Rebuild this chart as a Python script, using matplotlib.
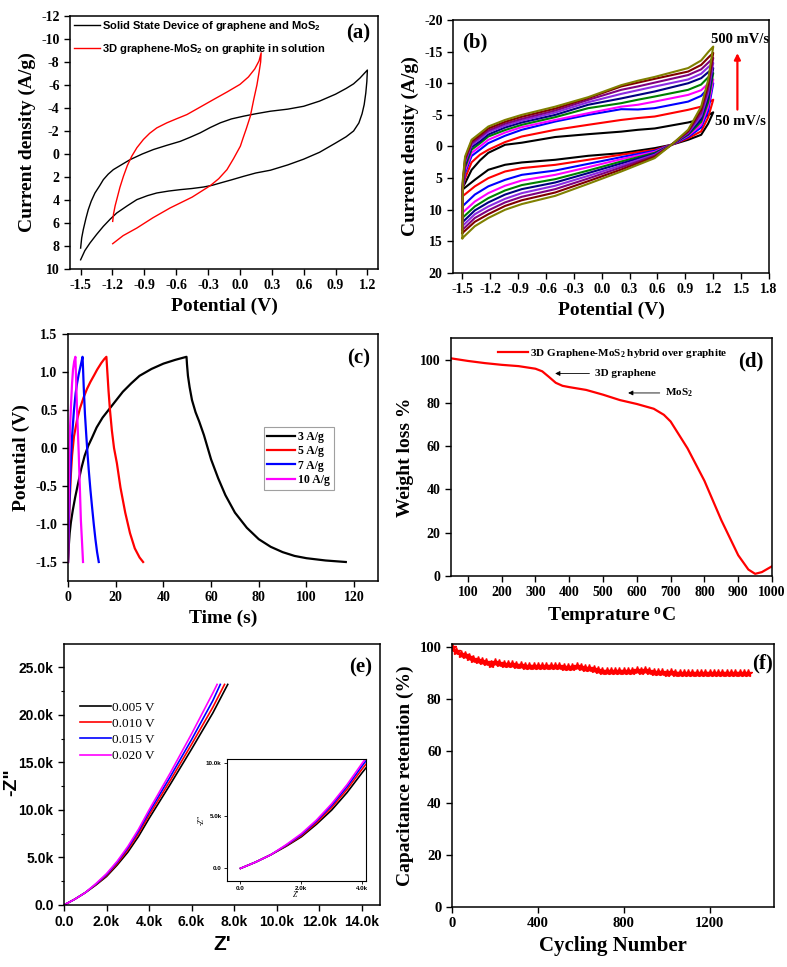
import numpy as np
import matplotlib
matplotlib.use("Agg")
import matplotlib.pyplot as plt
from matplotlib.ticker import FuncFormatter, MultipleLocator

plt.rcParams['axes.unicode_minus'] = False
plt.rcParams['font.family'] = ['Liberation Serif', 'DejaVu Serif']
plt.rcParams['mathtext.fontset'] = 'custom'
plt.rcParams['mathtext.rm'] = 'Liberation Serif'
plt.rcParams['mathtext.bf'] = 'Liberation Serif:bold'
plt.rcParams['mathtext.sf'] = 'Liberation Sans:bold'
plt.rcParams['mathtext.it'] = 'Liberation Serif:italic'

# ---------------- (a) CV: solid state device vs solution ----------------
a_dev_up_x = [-1.5, -1.49, -1.475, -1.45, -1.428, -1.4, -1.365, -1.32, -1.286, -1.24, -1.192,
              -1.1, -1.034, -0.92, -0.814, -0.69, -0.562, -0.47, -0.374, -0.28, -0.185, -0.08,
              0.035, 0.15, 0.287, 0.45, 0.6, 0.75, 0.9, 1.0, 1.07, 1.13, 1.17, 1.2]
a_dev_up_y = [8.18, 7.3, 6.58, 5.6, 4.84, 4.1, 3.39, 2.75, 2.23, 1.75, 1.36,
              0.85, 0.49, 0.0, -0.39, -0.75, -1.1, -1.45, -1.84, -2.3, -2.71, -3.05,
              -3.29, -3.5, -3.72, -3.9, -4.15, -4.6, -5.2, -5.7, -6.1, -6.6, -7.0, -7.3]
a_dev_lo_x = [1.195, 1.185, 1.17, 1.15, 1.12, 1.07, 1.0, 0.9, 0.75, 0.6, 0.45, 0.287, 0.15,
              0.035, -0.08, -0.185, -0.26, -0.342, -0.45, -0.562, -0.67, -0.783, -0.87,
              -0.971, -1.06, -1.16, -1.22, -1.286, -1.35, -1.412, -1.46, -1.5]
a_dev_lo_y = [-6.3, -5.3, -4.3, -3.5, -2.7, -2.0, -1.5, -0.95, -0.15, 0.45, 0.95, 1.41, 1.65,
              1.94, 2.25, 2.52, 2.72, 2.87, 3.0, 3.1, 3.22, 3.39, 3.62,
              3.97, 4.5, 5.13, 5.65, 6.29, 7.0, 7.74, 8.4, 9.2]
a_sol_up_x = [-1.198, -1.19, -1.175, -1.16, -1.13, -1.097, -1.06, -1.019, -0.97, -0.909, -0.85,
              -0.783, -0.688, -0.6, -0.499, -0.38, -0.248, -0.12, 0.0, 0.08, 0.14, 0.18, 0.2]
a_sol_up_y = [5.86, 5.2, 4.5, 3.97, 2.9, 1.94, 1.0, 0.2, -0.55, -1.26, -1.8,
              -2.27, -2.71, -3.05, -3.43, -4.05, -4.74, -5.4, -6.05, -6.7, -7.4, -8.1, -8.8]
a_sol_lo_x = [0.195, 0.18, 0.16, 0.13, 0.098, 0.06, 0.03, 0.004, -0.06, -0.122, -0.2, -0.279,
              -0.45, -0.657, -0.82, -0.971, -1.1, -1.198]
a_sol_lo_y = [-8.0, -7.1, -6.0, -4.74, -3.29, -2.2, -1.4, -0.68, 0.4, 1.36, 2.15, 2.75,
              3.75, 4.69, 5.55, 6.44, 7.1, 7.8]

# ---------------- (b) CV at 50 ... 500 mV/s ----------------
b_colors = ['black', 'red', 'blue', 'magenta', 'green', 'navy', '#8a2be2', 'purple', 'maroon', 'olive']
b_up_x = [-1.5, -1.495, -1.47, -1.40, -1.31, -1.22, -1.04, -0.86, -0.5, -0.145, 0.21, 0.39,
          0.57, 0.93, 1.07, 1.15, 1.2]
b_up_y = [
    [6.84, 6.4, 5.8, 3.7, 2.2, 1.0, -0.27, -0.6, -1.5, -1.95, -2.35, -2.64, -2.85, -3.8, -4.3, -5.0, -5.4],
    [7.9, 6.5, 5.0, 2.5, 1.3, 0.52, -0.7, -1.58, -2.64, -3.43, -4.2, -4.5, -4.74, -5.8, -6.3, -7.0, -7.4],
    [9.48, 6.5, 4.2, 1.5, 0.5, -0.53, -1.7, -2.64, -3.95, -5.0, -5.9, -5.85, -6.06, -7.1, -8.0, -9.3, -10.0],
    [10.5, 6.4, 3.8, 1.0, 0.0, -1.06, -2.2, -3.06, -4.2, -5.27, -6.3, -6.6, -7.1, -8.16, -8.9, -10.0, -10.6],
    [11.3, 6.3, 3.3, 0.5, -0.5, -1.58, -2.6, -3.43, -4.64, -6.06, -6.85, -7.4, -7.9, -8.96, -9.8, -11.0, -11.6],
    [12.0, 6.2, 2.9, 0.1, -0.8, -1.9, -3.0, -3.8, -5.0, -6.6, -7.6, -8.15, -8.7, -10.0, -10.8, -11.8, -12.4],
    [12.6, 6.0, 2.5, -0.2, -1.2, -2.27, -3.3, -4.1, -5.37, -7.0, -8.32, -8.9, -9.48, -10.6, -11.5, -12.6, -13.2],
    [13.2, 5.9, 2.2, -0.5, -1.5, -2.53, -3.6, -4.37, -5.69, -7.37, -8.96, -9.5, -10.1, -11.3, -12.2, -13.3, -14.0],
    [13.7, 5.7, 1.9, -0.8, -1.8, -2.85, -3.9, -4.7, -6.0, -7.65, -9.5, -10.1, -10.7, -11.85, -12.9, -14.1, -14.8],
    [14.5, 5.3, 1.58, -1.06, -2.1, -3.16, -4.2, -5.0, -6.3, -7.8, -9.7, -10.4, -11.0, -12.4, -13.6, -15.0, -15.8],
]
b_lo_x = [1.2, 1.145, 1.07, 0.93, 0.75, 0.57, 0.21, -0.145, -0.5, -0.86, -1.04, -1.22, -1.365, -1.5]
b_lo_y = [
    [-5.4, -3.6, -1.85, -1.06, -0.27, 0.26, 1.05, 1.47, 2.1, 2.52, 2.89, 3.68, 5.26, 6.84],
    [-7.4, -4.6, -2.4, -1.3, -0.27, 0.52, 1.3, 2.1, 2.9, 3.42, 3.95, 5.0, 6.3, 7.9],
    [-10.0, -5.6, -3.0, -1.5, -0.27, 0.68, 1.68, 2.74, 3.8, 4.48, 5.27, 6.3, 7.6, 9.48],
    [-10.6, -6.3, -3.4, -1.7, -0.27, 0.84, 2.0, 3.27, 4.48, 5.37, 6.2, 7.37, 8.7, 10.5],
    [-11.6, -7.0, -3.9, -1.85, -0.27, 1.0, 2.37, 3.8, 5.16, 6.1, 6.95, 8.16, 9.48, 11.3],
    [-12.4, -7.7, -4.3, -2.0, -0.27, 1.15, 2.68, 4.2, 5.69, 6.74, 7.6, 8.84, 10.1, 12.0],
    [-13.2, -8.4, -4.8, -2.15, -0.27, 1.31, 3.0, 4.64, 6.2, 7.37, 8.27, 9.48, 10.7, 12.6],
    [-14.0, -9.1, -5.3, -2.3, -0.27, 1.47, 3.3, 5.06, 6.74, 7.95, 8.84, 10.1, 11.3, 13.2],
    [-14.8, -9.8, -5.8, -2.45, -0.27, 1.63, 3.64, 5.48, 7.27, 8.5, 9.4, 10.7, 11.9, 13.7],
    [-15.8, -10.5, -6.3, -2.64, -0.27, 1.84, 3.95, 5.9, 7.8, 9.1, 10.0, 11.3, 12.6, 14.5],
]

# ---------------- (c) charge/discharge ----------------
c_labels = ['3 A/g', '5 A/g', '7 A/g', '10 A/g']
c_colors = ['black', 'red', 'blue', 'magenta']
c_t = [
    [0, 0.3, 0.7, 1.2, 2, 3, 4, 5.5, 7, 8.5, 10, 12, 14.5, 17, 20, 23, 26.5, 30, 35, 40, 45,
     49.7, 49.9, 50.3, 51, 52, 53.5, 55, 57, 60, 63, 66, 70, 75, 80, 85, 90, 95, 100, 108, 116.5],
    [0, 0.3, 0.7, 1.2, 1.7, 2.5, 3.8, 5, 6.6, 8, 9.4, 11, 12.2, 14, 15.2, 16.1, 16.3, 16.6, 17,
     17.6, 18.4, 19.3, 20.5, 22, 24, 26, 28, 30, 31.5],
    [0, 0.2, 0.5, 0.9, 1.3, 1.7, 2.5, 3.2, 3.8, 4.5, 5.2, 5.7, 6.1, 6.3, 6.6, 7.1, 7.7, 8.2, 8.7,
     9.4, 10.1, 10.8, 11.5, 12.2, 12.9],
    [0, 0.15, 0.35, 0.6, 0.9, 1.3, 1.7, 2.1, 2.6, 3.1, 3.3, 3.5, 3.9, 4.5, 5.0, 5.4, 5.9, 6.3],
]
c_v = [
    [-1.5, -1.3, -1.12, -0.98, -0.82, -0.65, -0.5, -0.28, -0.1, 0.03, 0.13, 0.27, 0.4, 0.5, 0.62,
     0.74, 0.85, 0.95, 1.04, 1.11, 1.16, 1.2, 1.1, 0.95, 0.8, 0.63, 0.47, 0.35, 0.17, -0.15, -0.4,
     -0.62, -0.85, -1.05, -1.2, -1.3, -1.37, -1.42, -1.45, -1.48, -1.5],
    [-1.5, -1.1, -0.7, -0.35, -0.1, 0.15, 0.37, 0.52, 0.67, 0.78, 0.87, 0.96, 1.03, 1.12, 1.17,
     1.2, 1.1, 0.95, 0.75, 0.5, 0.23, 0.0, -0.2, -0.52, -0.85, -1.12, -1.32, -1.44, -1.5],
    [-1.5, -1.2, -0.8, -0.4, -0.1, 0.15, 0.5, 0.72, 0.85, 0.97, 1.07, 1.14, 1.2, 1.05, 0.8, 0.45,
     0.15, -0.08, -0.29, -0.55, -0.78, -1.0, -1.2, -1.37, -1.5],
    [-1.5, -1.1, -0.6, -0.07, 0.3, 0.59, 0.85, 1.03, 1.14, 1.2, 1.0, 0.8, 0.4, -0.07, -0.55,
     -0.95, -1.25, -1.5],
]

# ---------------- (d) TGA ----------------
d_temp = [50, 100, 150, 200, 250, 300, 320, 340, 360, 380, 400, 450, 500, 550, 600, 650, 680,
          700, 750, 800, 850, 900, 930, 950, 970, 1000]
d_weight = [100.6, 99.4, 98.4, 97.6, 97.0, 95.8, 94.6, 92.0, 89.3, 87.9, 87.3, 86.0, 83.8,
            81.3, 79.5, 77.3, 74.5, 71.4, 59.0, 44.0, 25.8, 9.6, 3.0, 1.0, 1.8, 4.5]

# ---------------- (e) Nyquist ----------------
e_labels = ['0.005 V', '0.010 V', '0.015 V', '0.020 V']
e_colors = ['black', 'red', 'blue', 'magenta']
e_zre = [
    [0, 500, 1000, 1500, 2000, 2500, 3000, 3500, 4000, 5000, 6000, 7000, 7700],
    [0, 500, 1000, 1500, 2000, 2500, 3000, 3500, 4000, 5000, 6000, 7000, 7550],
    [0, 500, 1000, 1500, 2000, 2500, 3000, 3500, 4000, 5000, 6000, 7000, 7350],
    [0, 500, 1000, 1500, 2000, 2500, 3000, 3500, 4000, 5000, 6000, 7000, 7200],
]
e_zim = [
    [0, 600, 1300, 2100, 3000, 4200, 5550, 7200, 9100, 12700, 16400, 20200, 23200],
    [0, 600, 1300, 2150, 3100, 4350, 5800, 7500, 9450, 13100, 16900, 20800, 23200],
    [0, 600, 1300, 2200, 3200, 4500, 6000, 7750, 9750, 13500, 17400, 21500, 23200],
    [0, 600, 1300, 2250, 3300, 4600, 6150, 7950, 10000, 13900, 18000, 22300, 23200],
]

# ---------------- (f) cycling ----------------
f_cycle = list(range(0, 1381, 20))
f_retention = [100.0, 98.3, 97.3, 96.6, 96.0, 95.4, 95.0, 94.5, 93.9, 93.3,
               93.9, 93.6, 93.4, 93.3, 93.2, 93.0, 92.9, 92.7, 92.6, 92.6,
               92.5, 92.5, 92.4, 92.5, 92.4, 92.4, 92.3, 92.3, 92.2, 92.4,
               92.1, 91.9, 91.6, 91.4, 91.0, 90.7, 90.7, 90.8, 90.7, 90.8,
               90.7, 90.8, 90.7, 90.9, 90.8, 90.9, 90.5, 90.3, 90.3, 90.2,
               90.0, 90.1, 90.0, 90.0, 89.9, 89.9, 89.8, 90.0, 89.9, 89.9,
               89.8, 89.8, 89.8, 89.7, 89.8, 89.7, 89.7, 89.7, 89.7, 89.8]

W, H = 787, 967
fig = plt.figure(figsize=(W / 100, H / 100), dpi=100)


def box(l, t, r, b):
    return [l / W, 1 - b / H, (r - l) / W, (b - t) / H]


def style(ax, size=10, font='Liberation Serif'):
    for s in ax.spines.values():
        s.set_linewidth(1.1)
    ax.tick_params(direction='out', length=4, width=1, labelsize=size, top=False, right=False)
    for lab in ax.get_xticklabels() + ax.get_yticklabels():
        lab.set_fontweight('bold')
        lab.set_family(font)


lab_kw = dict(fontsize=14, fontweight='bold')
tag_kw = dict(fontsize=15, fontweight='bold')

# (a)
ax = fig.add_axes(box(70, 16, 378, 269))
ax.plot(a_dev_up_x + a_dev_lo_x, a_dev_up_y + a_dev_lo_y, color='black', lw=1,
        label=r'Solid State Device of graphene and MoS$_\mathsf{2}$')
ax.plot(a_sol_up_x + a_sol_lo_x, a_sol_up_y + a_sol_lo_y, color='red', lw=1,
        label=r'3D graphene-MoS$_\mathsf{2}$ on graphite in solution')
ax.set_xlim(-1.6, 1.3)
ax.set_ylim(10, -12)
ax.set_xticks(np.arange(-1.5, 1.21, 0.3))
ax.set_yticks(np.arange(-12, 11, 2))
ax.xaxis.set_major_formatter(FuncFormatter(lambda v, p: f'{v:.1f}'))
ax.set_xlabel('Potential (V)', **lab_kw)
ax.set_ylabel('Current density (A/g)', **lab_kw)
style(ax)
ax.legend(loc='upper left', bbox_to_anchor=(-0.01, 1.015), frameon=False, handlelength=2.4,
          handletextpad=0.15, labelspacing=0.8, borderaxespad=0.2,
          prop=dict(family='Liberation Sans', weight='bold', size=8))
ax.text(0.975, 0.93, '(a)', transform=ax.transAxes, ha='right', va='center', **tag_kw)

# (b)
ax = fig.add_axes(box(453, 20, 769, 273))
for col, uy, ly in zip(b_colors, b_up_y, b_lo_y):
    ax.plot(b_up_x + b_lo_x, uy + ly, color=col, lw=1.5)
ax.set_xlim(-1.6, 1.8)
ax.set_ylim(20, -20)
ax.set_xticks(np.arange(-1.5, 1.81, 0.3))
ax.set_yticks(np.arange(-20, 21, 5))
ax.xaxis.set_major_formatter(FuncFormatter(lambda v, p: f'{v:.1f}'))
ax.set_xlabel('Potential (V)', **lab_kw)
ax.set_ylabel('Current density (A/g)', **lab_kw)
style(ax)
ax.text(0.03, 0.91, '(b)', transform=ax.transAxes, ha='left', va='center', **tag_kw)
ax.annotate('', xy=(1.46, -15.2), xytext=(1.46, -5.4),
            arrowprops=dict(arrowstyle='-|>', color='red', lw=1.6, mutation_scale=9))
ax.text(1.49, -16.9, '500 mV/s', ha='center', va='center', fontsize=10.5, fontweight='bold')
ax.text(1.22, -3.9, '50 mV/s', ha='left', va='center', fontsize=10.5, fontweight='bold')

# (c)
ax = fig.add_axes(box(68, 334, 378, 581))
for t, v, col, lab in zip(c_t, c_v, c_colors, c_labels):
    ax.plot(t, v, color=col, lw=1.6, label=lab)
ax.set_xlim(0, 130)
ax.set_ylim(-1.75, 1.5)
ax.set_xticks(np.arange(0, 121, 20))
ax.set_yticks(np.arange(-1.5, 1.51, 0.5))
ax.yaxis.set_major_formatter(FuncFormatter(lambda v, p: f'{v:.1f}'))
ax.set_xlabel('Time (s)', **lab_kw)
ax.set_ylabel('Potential (V)', **lab_kw)
style(ax)
leg = ax.legend(loc='upper left', bbox_to_anchor=(0.632, 0.622), frameon=True, fancybox=False,
                edgecolor='#888888', handlelength=2.3, handletextpad=0.3, labelspacing=0.2,
                borderpad=0.3, borderaxespad=0, prop=dict(weight='bold', size=8.5))
leg.get_frame().set_linewidth(0.8)
ax.text(0.975, 0.9, '(c)', transform=ax.transAxes, ha='right', va='center', **tag_kw)

# (d)
ax = fig.add_axes(box(451, 338, 772, 576))
ax.plot(d_temp, d_weight, color='red', lw=1.6,
        label=r'3D Graphene-MoS$_\mathbf{2}$ hybrid over graphite')
ax.set_xlim(50, 1000)
ax.set_ylim(0, 110)
ax.set_xticks(np.arange(100, 1001, 100))
ax.set_yticks(np.arange(0, 101, 20))
ax.set_xlabel(r'Temprature $^\mathbf{o}$C', **lab_kw)
ax.set_ylabel('Weight loss %', **lab_kw)
style(ax)
ax.legend(loc='upper left', bbox_to_anchor=(0.115, 1.005), frameon=False, handlelength=2.7,
          handletextpad=0.2, prop=dict(weight='bold', size=8))
ax.annotate('', xy=(350, 93.6), xytext=(468, 93.6),
            arrowprops=dict(arrowstyle='-|>', color='black', lw=0.6, mutation_scale=7))
ax.text(475, 93.6, '3D graphene', ha='left', va='center', fontsize=8, fontweight='bold')
ax.annotate('', xy=(566, 84.6), xytext=(676, 84.6),
            arrowprops=dict(arrowstyle='-|>', color='black', lw=0.6, mutation_scale=7))
ax.text(684, 84.6, r'MoS$_\mathbf{2}$', ha='left', va='center', fontsize=8, fontweight='bold')
ax.text(0.975, 0.9, '(d)', transform=ax.transAxes, ha='right', va='center', **tag_kw)

# (e)
kfmt = FuncFormatter(lambda v, p: '0.0' if abs(v) < 1e-9 else f'{v / 1000:.1f}k')
ax = fig.add_axes(box(64, 644, 380, 905))
for x, y, col, lab in zip(e_zre, e_zim, e_colors, e_labels):
    ax.plot(x, y, color=col, lw=1.2, label=lab)
ax.set_xlim(0, 14860)
ax.set_ylim(0, 27450)
ax.set_xticks(np.arange(0, 14001, 2000))
ax.set_yticks(np.arange(0, 25001, 5000))
ax.yaxis.set_minor_locator(MultipleLocator(2500))
ax.xaxis.set_major_formatter(kfmt)
ax.yaxis.set_major_formatter(kfmt)
ax.tick_params(which='minor', direction='out', length=2.5, width=0.8)
ax.set_xlabel("Z'", fontsize=15, fontweight='bold', family='Liberation Sans')
ax.set_ylabel('-Z"', fontsize=14, fontweight='bold', family='Liberation Sans')
ax.yaxis.set_label_coords(-0.14, 0.47)
style(ax, size=10, font='Liberation Sans')
ax.legend(loc='upper left', bbox_to_anchor=(0.035, 0.8), frameon=False, handlelength=2.3,
          handletextpad=0.1, labelspacing=0.3, borderaxespad=0, prop=dict(size=9.5))
ax.text(0.975, 0.91, '(e)', transform=ax.transAxes, ha='right', va='center', **tag_kw)

ins = fig.add_axes(box(226.5, 759, 365.5, 881))
for x, y, col in zip(e_zre, e_zim, e_colors):
    ins.plot(x, y, color=col, lw=1.2)
ins.set_xlim(-460, 4110)
ins.set_ylim(-1200, 10400)
ins.set_xticks([0, 2000, 4000])
ins.set_yticks([0, 5000, 10000])
ins.xaxis.set_major_formatter(kfmt)
ins.yaxis.set_major_formatter(kfmt)
for s in ins.spines.values():
    s.set_linewidth(0.8)
ins.tick_params(direction='out', length=2, width=0.6, labelsize=4.5, pad=1.5)
for lab in ins.get_xticklabels() + ins.get_yticklabels():
    lab.set_fontweight('bold')
    lab.set_family('Liberation Sans')
ins.set_xlabel("Z'", fontsize=5.5, style='italic', labelpad=0)
ins.set_ylabel('-Z"', fontsize=5.5, style='italic', labelpad=0)

# (f)
ax = fig.add_axes(box(452, 644, 774, 907))
ax.plot(f_cycle, f_retention, color='red', lw=1, marker='*', ms=6, mec='red', mfc='red')
ax.set_xlim(0, 1500)
ax.set_ylim(0, 101)
ax.set_xticks([0, 400, 800, 1200])
ax.set_yticks(np.arange(0, 101, 20))
ax.set_xlabel('Cycling Number', fontsize=15, fontweight='bold')
ax.set_ylabel('Capacitance retention (%)', **lab_kw)
style(ax, size=10.5)
ax.text(0.995, 0.925, '(f)', transform=ax.transAxes, ha='right', va='center', **tag_kw)

fig.savefig('out.png', dpi=100)
